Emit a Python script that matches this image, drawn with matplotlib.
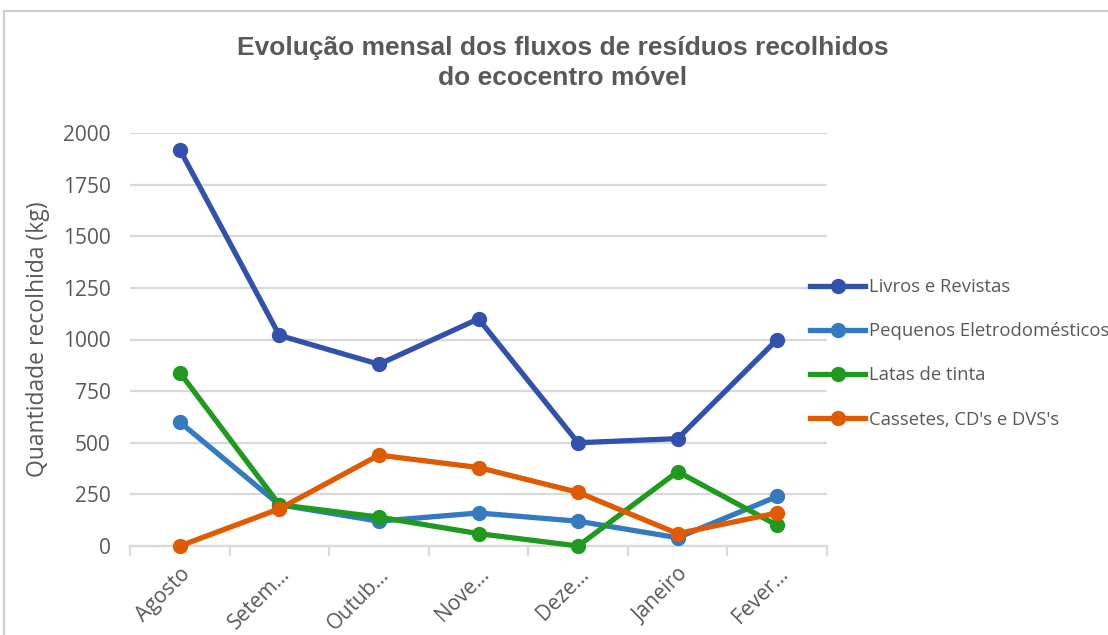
import numpy as np
import matplotlib.pyplot as plt
from matplotlib.patches import Rectangle

# Data
months = ["Agosto", "Setem…", "Outub…", "Nove…", "Deze…", "Janeiro", "Fever…"]
livros = [1920, 1020, 880, 1100, 500, 520, 1000]
pequenos = [600, 200, 120, 160, 120, 40, 240]
latas = [840, 200, 140, 60, 0, 360, 100]
cassetes = [0, 180, 440, 380, 260, 60, 160]

series_names = ["Livros e Revistas", "Pequenos Eletrodomésticos",
                "Latas de tinta", "Cassetes, CD's e DVS's"]
colors = ["#3251ad", "#337ac0", "#1f9a1f", "#e05a02"]

txt = "#595959"
grid = "#d9d9d9"

plt.rcParams['font.family'] = ['Open Sans', 'DejaVu Sans']

fig = plt.figure(figsize=(11.08, 6.35), dpi=100)
ax = fig.add_axes([130/1108, 1 - 546/635, (827-130)/1108, (546-133)/635])

x = np.arange(len(months))
lines = []
for vals, name, c in zip([livros, pequenos, latas, cassetes], series_names, colors):
    l, = ax.plot(x, vals, color=c, lw=3.8, marker='o', ms=10, label=name,
                 clip_on=False, zorder=3)
    lines.append(l)

ax.set_xlim(-0.5, 6.5)
ax.set_ylim(0, 2000)
ax.set_yticks(np.arange(0, 2001, 250))
ax.yaxis.grid(True, color=grid, lw=1.6)
ax.set_axisbelow(True)
for s in ["top", "right", "left"]:
    ax.spines[s].set_visible(False)
ax.spines["bottom"].set_color(grid)
ax.spines["bottom"].set_linewidth(1.6)

ax.set_xticks(x)
ax.set_xticklabels(months, rotation=45, ha='right', va='top',
                   rotation_mode='anchor', fontsize=15, color=txt)
ax.tick_params(axis='x', which='major', length=0, pad=13)
ax.set_xticks(np.arange(-0.5, 7, 1), minor=True)
ax.tick_params(axis='x', which='minor', length=7, width=1.6, color=grid)
ax.tick_params(axis='y', length=0, labelsize=15, labelcolor=txt, pad=14)

ax.set_ylabel("Quantidade recolhida (kg)", fontsize=16.5, color=txt, labelpad=9)

fig.text(563/1108, 1 - 63/635,
         "Evolução mensal dos fluxos de resíduos recolhidos\ndo ecocentro móvel",
         ha='center', va='center', fontsize=19, fontweight='bold',
         family='Liberation Sans', color=txt, linespacing=1.32)

fig.legend(handles=lines, loc='upper left', bbox_to_anchor=(810/1108, 1 - 278/635),
           frameon=False, fontsize=13.3, labelcolor=txt, handlelength=3.0,
           handletextpad=0.2, labelspacing=1.42, borderaxespad=0, borderpad=0)

# outer chart border
fig.add_artist(Rectangle((4/1108, -0.1), 1.2, 1.1 - 11/635,
                         transform=fig.transFigure, fill=False,
                         ec="#cfcfcf", lw=1.5))

fig.savefig("out.png", dpi=100)
